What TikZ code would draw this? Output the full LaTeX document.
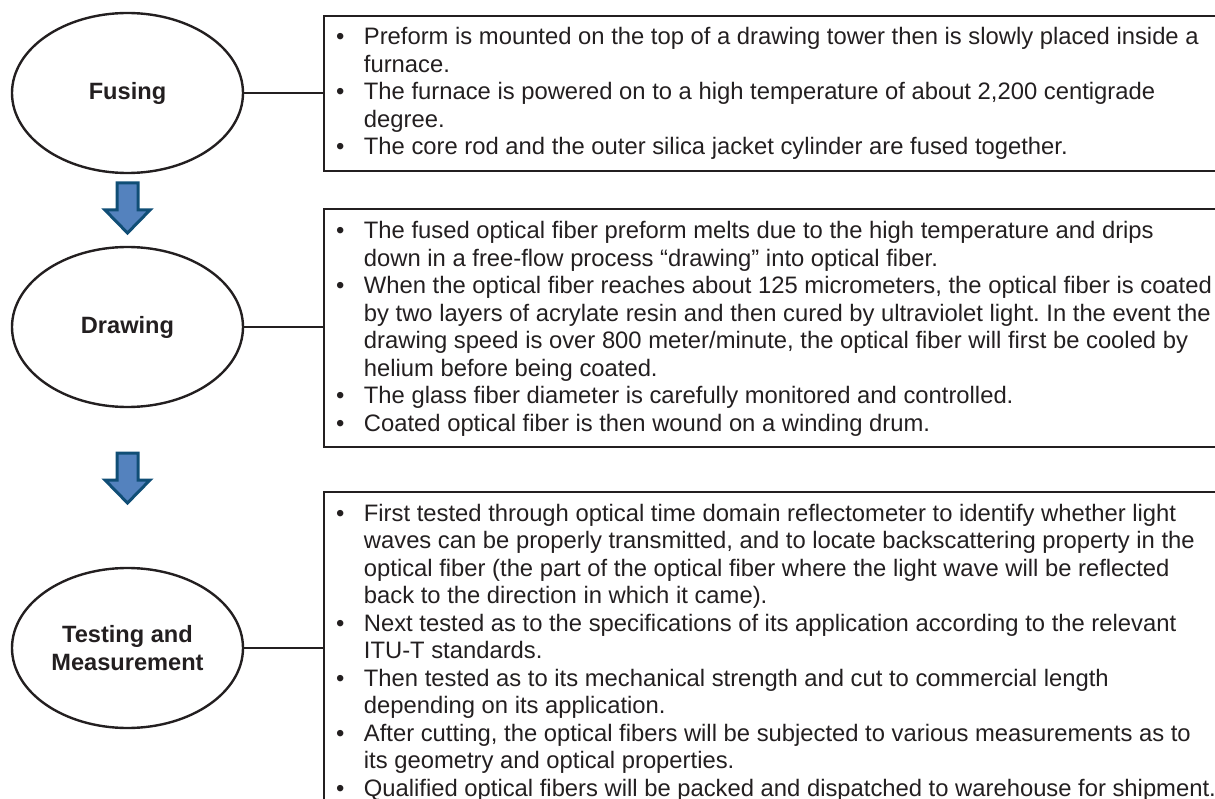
\documentclass[tikz,border=0pt]{standalone}
\usepackage{fontspec}
\setmainfont{Liberation Sans}
\usetikzlibrary{shapes.geometric}
\definecolor{ink}{RGB}{35,31,32}
\definecolor{arrowfill}{RGB}{84,130,190}
\definecolor{arrowedge}{RGB}{16,78,118}
\frenchspacing

\tikzset{
  pics/blockdown/.style={code={
    \draw[fill=arrowfill, draw=arrowedge, line width=3pt, line join=miter]
      (-10.5,0) -- (10.5,0) -- (10.5,27) -- (22.5,27) -- (0,50)
      -- (-22.5,27) -- (-10.5,27) -- cycle;
  }}
}

\begin{document}
\begin{tikzpicture}[x=1pt, y=-1pt,
  stage/.style={ellipse, draw=ink, line width=2.4pt, minimum width=231pt,
    minimum height=160pt, inner sep=0pt, text=ink, align=center,
    font=\fontsize{23.6}{28}\selectfont\bfseries},
  panel/.style={rectangle, draw=ink, line width=2.4pt, inner sep=0pt,
    anchor=north west, minimum width=917pt},
  notes/.style={anchor=base west, inner sep=0pt, text=ink,
    font=\fontsize{23.8}{27.5}\selectfont},
  link/.style={draw=ink, line width=2.4pt}
]
\useasboundingbox (0,0) rectangle (1215,799);
\clip (0,0) rectangle (1215,799);

% process stages
\node[stage] (e1) at (127.5,93) {Fusing};
\node[stage] (e2) at (127.5,327) {Drawing};
\node[stage] (e3) at (127.5,648) {Testing and\\Measurement};

% flow arrows between stages
\pic at (127.5,183) {blockdown};
\pic at (127.5,453) {blockdown};

% description panels
\node[panel, minimum height=155pt] (b1) at (323,15) {};
\node[panel, minimum height=238pt] (b2) at (323,208) {};
\node[panel, minimum height=339pt] (b3) at (323,491) {};

% stage-to-panel links
\draw[link] (e1.east) -- (e1.east -| b1.west);
\draw[link] (e2.east) -- (e2.east -| b2.west);
\draw[link] (e3.east) -- (e3.east -| b3.west);

% panel texts
\node[notes] (t1) at (335.8,45) {\begin{tabular}[t]{@{}c@{\hspace{19.6pt}}l@{}}
\textbullet & Preform is mounted on the top of a drawing tower then is slowly placed inside a\\
 & furnace.\\
\textbullet & The furnace is powered on to a high temperature of about 2,200 centigrade\\
 & degree.\\
\textbullet & The core rod and the outer silica jacket cylinder are fused together.
\end{tabular}};

\node[notes] (t2) at (335.8,239) {\begin{tabular}[t]{@{}c@{\hspace{19.6pt}}l@{}}
\textbullet & The fused optical fiber preform melts due to the high temperature and drips\\
 & down in a free-flow process “drawing” into optical fiber.\\
\textbullet & When the optical fiber reaches about 125 micrometers, the optical fiber is coated\\
 & by two layers of acrylate resin and then cured by ultraviolet light. In the event the\\
 & drawing speed is over 800 meter/minute, the optical fiber will first be cooled by\\
 & helium before being coated.\\
\textbullet & The glass fiber diameter is carefully monitored and controlled.\\
\textbullet & Coated optical fiber is then wound on a winding drum.
\end{tabular}};

\node[notes] (t3) at (335.8,521) {\begin{tabular}[t]{@{}c@{\hspace{19.6pt}}l@{}}
\textbullet & First tested through optical time domain reflectometer to identify whether light\\
 & waves can be properly transmitted, and to locate backscattering property in the\\
 & optical fiber (the part of the optical fiber where the light wave will be reflected\\
 & back to the direction in which it came).\\
\textbullet & Next tested as to the specifications of its application according to the relevant\\
 & ITU-T standards.\\
\textbullet & Then tested as to its mechanical strength and cut to commercial length\\
 & depending on its application.\\
\textbullet & After cutting, the optical fibers will be subjected to various measurements as to\\
 & its geometry and optical properties.\\
\textbullet & Qualified optical fibers will be packed and dispatched to warehouse for shipment.
\end{tabular}};
\end{tikzpicture}
\end{document}
